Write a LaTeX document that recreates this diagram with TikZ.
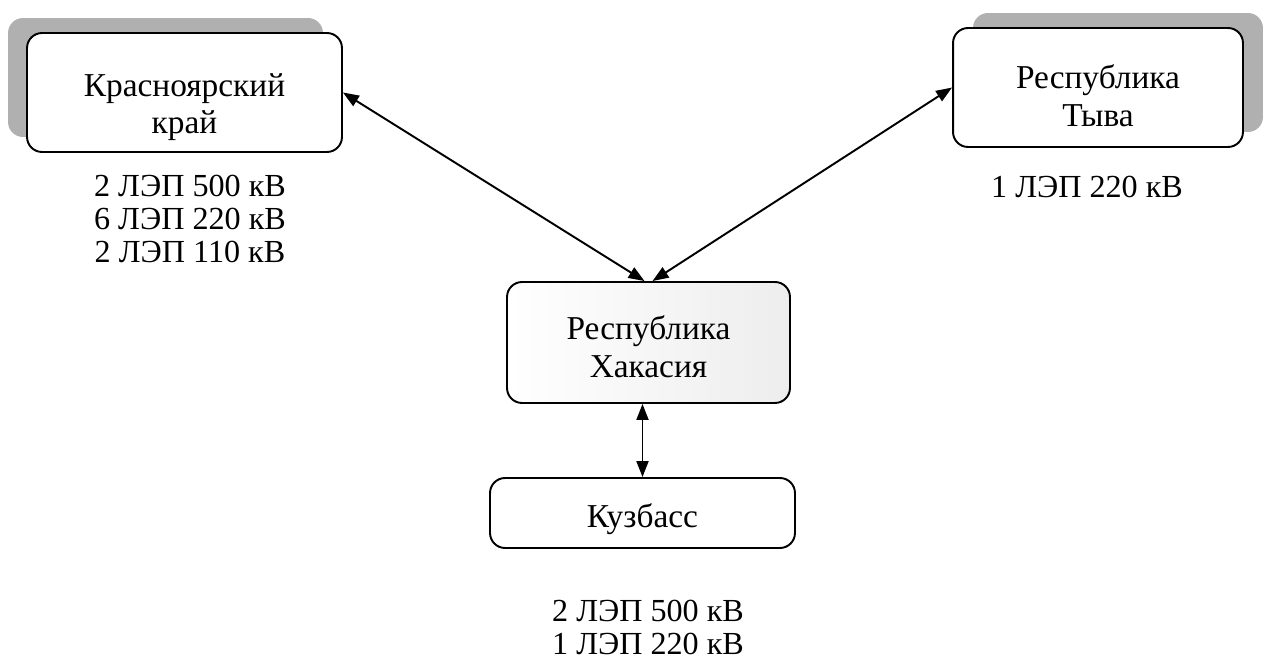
\documentclass[tikz,border=0pt]{standalone}
\usepackage{fontspec}
\setmainfont{Liberation Serif}
\usepackage{tikz}
\usetikzlibrary{arrows.meta,shadows}
\tikzset{
  region/.style ={rectangle,draw,line width=1.1pt,rounded corners=0.3cm,fill=white,
                  align=center,font=\fontsize{19}{21.5}\selectfont,inner sep=0pt},
  shl/.style    ={general shadow={shadow xshift=-0.38cm,shadow yshift=0.3cm,fill=gray!62}},
  shr/.style    ={general shadow={shadow xshift=0.4cm,shadow yshift=0.3cm,fill=gray!62}},
  lines/.style  ={align=center,font=\fontsize{18.3}{18.8}\selectfont,inner sep=0pt},
  ar/.style     ={{Triangle[length=3.2mm,width=2.4mm]}-{Triangle[length=3.2mm,width=2.4mm]},line width=1.1pt},
}
\begin{document}
\begin{tikzpicture}[x=0.02cm,y=-0.02cm]
  \useasboundingbox (0,0) rectangle (1269,661);
  % regions (pixel grid, y downwards)
  \node[region,shl,text height=48pt,text depth=1pt,minimum width=6.3cm,minimum height=2.38cm] (krsk) at (184.5,92.5){Красноярский\\край};
  \node[region,shr,text height=45.5pt,text depth=1pt,minimum width=5.8cm,minimum height=2.38cm] (tyva) at (1098,87.5){Республика\\Тыва};
  \node[region,left color=white,right color=gray!14,text height=40.5pt,text depth=1pt,minimum width=5.66cm,minimum height=2.42cm] (khak) at (648.5,342.5){Республика\\Хакасия};
  \node[region,text height=17pt,text depth=1pt,minimum width=6.1cm,minimum height=1.4cm] (kuzb) at (642.5,513){Кузбасс};
  % line counts
  \node[lines] (lkrsk) at (190,219){2 ЛЭП 500 кВ\\6 ЛЭП 220 кВ\\2 ЛЭП 110 кВ};
  \node[lines] (ltyva) at (1087,187){1 ЛЭП 220 кВ};
  \node[lines] (lkuzb) at (648,627){2 ЛЭП 500 кВ\\1 ЛЭП 220 кВ};
  % links
  \draw[ar] (krsk.east) -- ([xshift=-0.08cm]khak.north);
  \draw[ar] (tyva.west) -- ([xshift=0.08cm]khak.north);
  \draw[ar] (kuzb.north |- khak.south) -- (kuzb.north);
\end{tikzpicture}
\end{document}
